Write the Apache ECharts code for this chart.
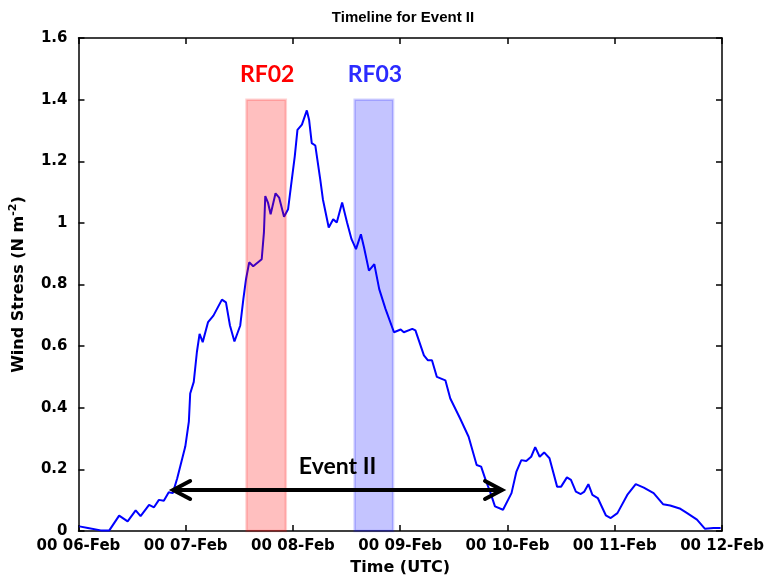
<!DOCTYPE html>
<html>
<head>
<meta charset="utf-8">
<script src="https://cdn.jsdelivr.net/npm/echarts@6/dist/echarts.min.js"></script>
<style>
  html, body { margin: 0; padding: 0; background: #ffffff; }
  #chart { width: 767px; height: 581px; }
</style>
</head>
<body>
<div id="chart"></div>
<script>
// Day ticks along the time axis (hours since 00 UTC 06-Feb)
const dayTickLabels = ['00 06-Feb', '00 07-Feb', '00 08-Feb', '00 09-Feb', '00 10-Feb', '00 11-Feb', '00 12-Feb'];

// Wind stress time series: hours since 00 06-Feb and stress (N m^-2)
const hours = [
  0.2, 2.1, 5.0, 6.9, 9.1, 11.0, 12.8, 13.9, 15.8, 16.9, 18.0, 19.1, 20.2, 21.1, 22.1,
  23.9, 24.7, 25.0, 25.8, 26.5, 27.1, 27.8, 29.0, 30.2, 32.1, 33.0, 33.9, 34.9, 36.2,
  36.9, 37.5, 38.2, 39.1, 41.0, 41.5, 41.8, 42.4, 43.0, 44.1, 44.9, 46.0, 46.9, 47.6,
  48.4, 49.0, 50.0, 51.1, 51.6, 52.2, 53.0, 54.1, 54.7, 56.0, 57.0, 57.8, 59.0, 60.1,
  61.1, 62.1, 63.2, 63.9, 65.0, 66.2, 67.3, 68.7, 70.6, 72.1, 72.8, 74.7, 75.4, 77.3,
  78.2, 79.1, 80.2, 82.1, 83.2, 85.4, 87.3, 89.1, 90.1, 91.1, 92.1, 93.2, 95.0, 96.9,
  98.0, 99.1, 100.2, 101.3, 102.2, 103.2, 104.2, 105.4, 107.1, 108.0, 109.3, 110.2,
  111.3, 112.4, 113.2, 114.1, 115.0, 116.2, 118.0, 119.1, 120.6, 122.8, 124.7, 126.5,
  128.7, 130.8, 132.4, 134.7, 136.2, 138.4, 140.2, 142.1, 143.7
];
const windStress = [
  0.015, 0.010, 0.002, 0.002, 0.050, 0.031, 0.067, 0.048, 0.085, 0.077, 0.101, 0.098, 0.126, 0.123, 0.171,
  0.274, 0.355, 0.446, 0.484, 0.581, 0.640, 0.613, 0.678, 0.699, 0.751, 0.742, 0.667, 0.615, 0.667,
  0.753, 0.818, 0.872, 0.859, 0.882, 0.969, 1.087, 1.066, 1.028, 1.096, 1.082, 1.020, 1.044, 1.125,
  1.216, 1.302, 1.319, 1.365, 1.335, 1.259, 1.251, 1.141, 1.076, 0.985, 1.012, 1.001, 1.066, 1.001,
  0.947, 0.915, 0.963, 0.920, 0.845, 0.866, 0.785, 0.721, 0.645, 0.654, 0.645, 0.656, 0.651, 0.570,
  0.554, 0.554, 0.500, 0.489, 0.430, 0.365, 0.306, 0.214, 0.209, 0.166, 0.128, 0.080, 0.069, 0.123,
  0.193, 0.230, 0.227, 0.241, 0.272, 0.241, 0.255, 0.236, 0.144, 0.144, 0.174, 0.166,
  0.128, 0.120, 0.128, 0.152, 0.117, 0.107, 0.051, 0.042, 0.058, 0.117, 0.152, 0.141,
  0.123, 0.087, 0.083, 0.072, 0.058, 0.037, 0.007, 0.010, 0.010
];

// Research flight windows (hours) and the height of their bars
const flightNames = ['RF02', 'RF03'];
const flightStart = [37.6, 61.8];
const flightEnd = [46.4, 70.4];
const flightTop = [1.4, 1.4];
const flightFill = ['rgba(255,0,0,0.25)', 'rgba(0,0,255,0.23)'];
const flightEdge = ['rgba(255,0,0,0.18)', 'rgba(0,0,255,0.18)'];
const flightText = ['#ff0000', '#2b2bff'];

// Event span marked by a double-headed arrow
const eventName = 'Event II';
const eventStart = [20.96];
const eventEnd = [95.0];
const eventLevel = [0.133];
const eventLabelLevel = [0.21];

const axisFont = 'DejaVu Sans';
const chart = echarts.init(document.getElementById('chart'), null, { renderer: 'canvas' });

const lineData = hours.map((h, i) => [h, windStress[i]]);
const flightData = flightNames.map((n, i) => [flightStart[i], flightEnd[i], flightTop[i]]);
const eventData = eventStart.map((s, i) => [s, eventEnd[i], eventLevel[i], eventLabelLevel[i]]);

const boxLine = { show: true, onZero: false, lineStyle: { color: '#000', width: 1.5 } };
const innerTick = { show: true, inside: true, length: 6, lineStyle: { color: '#000', width: 1.5 } };

chart.setOption({
  animation: false,
  backgroundColor: '#ffffff',
  title: {
    text: 'Timeline for Event II',
    left: 398,
    top: 5,
    textAlign: 'center',
    textStyle: { fontFamily: '"Liberation Sans", Arial, sans-serif', fontWeight: 'bold', fontSize: 15, color: '#000' }
  },
  grid: { left: 74, right: 45, top: 38, bottom: 48, containLabel: false },
  xAxis: [
    {
      type: 'value', min: 0, max: 144, interval: 24, position: 'bottom',
      axisLine: boxLine, axisTick: innerTick, splitLine: { show: false },
      axisLabel: {
        formatter: v => dayTickLabels[Math.round(v / 24)],
        fontFamily: axisFont, fontWeight: 'bold', fontSize: 15, color: '#000', margin: 8
      },
      name: 'Time (UTC)', nameLocation: 'middle', nameGap: 29,
      nameTextStyle: { fontFamily: axisFont, fontWeight: 'bold', fontSize: 16, color: '#000' }
    },
    {
      type: 'value', min: 0, max: 144, interval: 24, position: 'top',
      axisLine: boxLine, axisTick: innerTick, axisLabel: { show: false }, splitLine: { show: false }
    }
  ],
  yAxis: [
    {
      type: 'value', min: 0, max: 1.6, interval: 0.2, position: 'left',
      axisLine: boxLine, axisTick: innerTick, splitLine: { show: false },
      axisLabel: { fontFamily: axisFont, fontWeight: 'bold', fontSize: 15, color: '#000', margin: 11 },
      name: 'Wind Stress (N m{sup|-2})', nameLocation: 'middle', nameGap: 32, nameRotate: 90,
      nameTextStyle: {
        fontFamily: axisFont, fontWeight: 'bold', fontSize: 16, color: '#000', lineHeight: 22,
        rich: {
          sup: { fontFamily: axisFont, fontWeight: 'bold', fontSize: 11, color: '#000', lineHeight: 12, verticalAlign: 'top' }
        }
      }
    },
    {
      type: 'value', min: 0, max: 1.6, interval: 0.2, position: 'right',
      axisLine: boxLine, axisTick: innerTick, axisLabel: { show: false }, splitLine: { show: false }
    }
  ],
  series: [
    {
      type: 'line',
      data: lineData,
      showSymbol: false,
      symbol: 'none',
      lineStyle: { color: '#0000ff', width: 2 },
      z: 2
    },
    {
      // Translucent flight windows drawn over the stress curve
      type: 'custom',
      data: flightData,
      encode: { x: [0, 1], y: 2 },
      z: 3,
      renderItem: (params, api) => {
        const i = params.dataIndex;
        const lo = api.coord([api.value(0), 0]);
        const hi = api.coord([api.value(1), api.value(2)]);
        return {
          type: 'group',
          children: [
            {
              type: 'rect',
              shape: { x: lo[0], y: hi[1], width: hi[0] - lo[0], height: lo[1] - hi[1] },
              style: { fill: flightFill[i], stroke: flightEdge[i], lineWidth: 2.5 }
            },
            {
              type: 'text',
              x: (lo[0] + hi[0]) / 2 + 1,
              y: hi[1] - 14,
              style: {
                text: flightNames[i], fill: flightText[i],
                font: 'bold 23px Lato, "Open Sans", sans-serif',
                textAlign: 'center', textVerticalAlign: 'bottom'
              }
            }
          ]
        };
      }
    },
    {
      // Double-headed arrow spanning the event, with its name above
      type: 'custom',
      data: eventData,
      encode: { x: [0, 1], y: 2 },
      z: 4,
      renderItem: (params, api) => {
        const a = api.coord([api.value(0), api.value(2)]);
        const b = api.coord([api.value(1), api.value(2)]);
        const t = api.coord([(api.value(0) + api.value(1)) / 2, api.value(3)]);
        const arrowStyle = { stroke: '#000', lineWidth: 4, fill: null, lineCap: 'round', lineJoin: 'miter' };
        return {
          type: 'group',
          children: [
            { type: 'line', shape: { x1: a[0] + 2, y1: a[1], x2: b[0] - 2, y2: b[1] }, style: arrowStyle },
            { type: 'polyline', shape: { points: [[a[0] + 18, a[1] - 9], [a[0] + 1, a[1]], [a[0] + 18, a[1] + 9]] }, style: arrowStyle },
            { type: 'polyline', shape: { points: [[b[0] - 18, b[1] - 9], [b[0] - 1, b[1]], [b[0] - 18, b[1] + 9]] }, style: arrowStyle },
            {
              type: 'text', x: t[0], y: t[1],
              style: {
                text: eventName, fill: '#000',
                font: 'bold 23px Lato, "Open Sans", sans-serif',
                textAlign: 'center', textVerticalAlign: 'middle'
              }
            }
          ]
        };
      }
    }
  ]
});
</script>
</body>
</html>
